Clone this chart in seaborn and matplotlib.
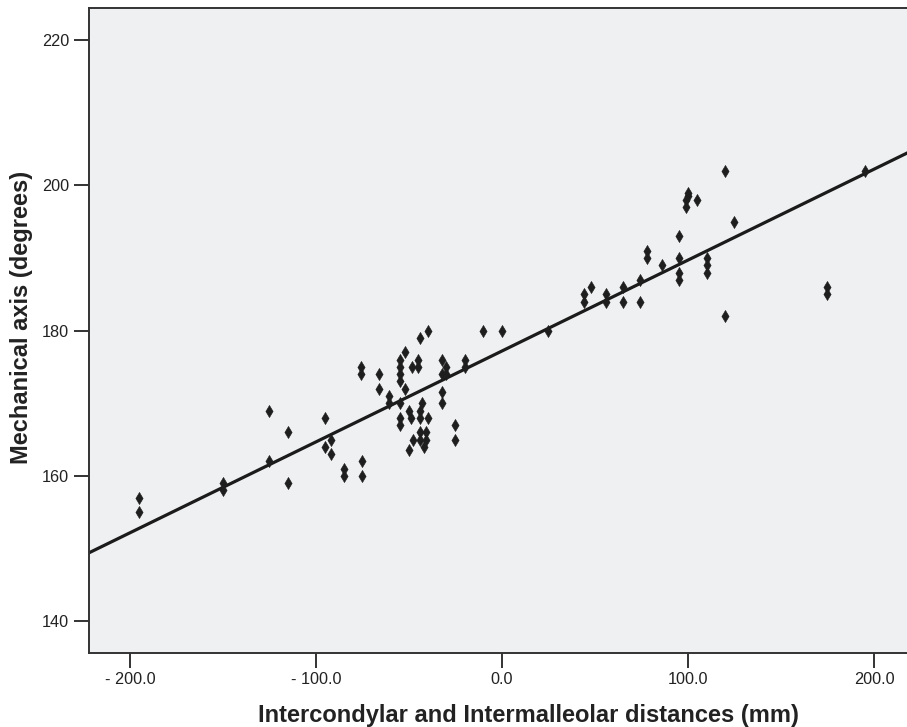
import numpy as np
import pandas as pd
import matplotlib
matplotlib.use("Agg")
import matplotlib.pyplot as plt
import seaborn as sns
from matplotlib.ticker import FixedLocator, FuncFormatter

# ---- data ----
distance_mm = [
    -195, -195, -150, -150, -125, -125, -115, -115,
    -95, -92, -95, -92, -85, -85, -75, -75,
    -76, -76, -66, -66, -61, -61,
    -55, -55, -55, -55, -55, -55, -55,
    -52, -52, -48.5, -45, -45, -44, -40,
    -32, -32, -30, -30, -32, -32, -20, -20, -25, -25,
    -50, -49, -48, -50, -44, -43, -44, -40, -44, -41, -44, -41, -42,
    -10, 0, 25,
    44, 44, 48, 56, 56, 65, 65, 74, 74, 78, 78, 86, 95, 95, 95, 95,
    99, 99, 100, 100, 105, 110, 110, 110, 120, 120, 125, 175, 175, 195,
]
mech_axis_deg = [
    157, 155, 159, 158, 169, 162, 166, 159,
    168, 165, 164, 163, 161, 160, 162, 160,
    175, 174, 174, 172, 171, 170,
    176, 175, 174, 173, 170, 168, 167,
    177, 172, 175, 176, 175, 179, 180,
    176, 174, 175, 174, 171.5, 170, 176, 175, 167, 165,
    169, 168, 165, 163.5, 169, 170, 168, 168, 166, 166, 165, 165, 164,
    180, 180, 180,
    185, 184, 186, 185, 184, 186, 184, 187, 184, 191, 190, 189, 193, 190, 188, 187,
    197, 198, 198.5, 199, 198, 190, 189, 188, 202, 182, 195, 186, 185, 202,
]
# fitted line
fit_intercept = 177.2
fit_slope = 0.1252

x_ticks = [-200, -100, 0, 100, 200]
y_ticks = [140, 160, 180, 200, 220]

df = pd.DataFrame({"x": distance_mm, "y": mech_axis_deg})

sns.set_theme(style="ticks")
plt.rcParams["font.family"] = ["Liberation Sans", "DejaVu Sans"]

fig = plt.figure(figsize=(9.07, 7.27), dpi=100)
# the plotting frame continues past the right edge of the picture (cropped)
ax = fig.add_axes([88.5 / 907, 74 / 727, (967.5 - 88.5) / 907, (653 - 8) / 727])
ax.set_facecolor("#eff0f2")

ax.set_xlim(-222.3, 250.3)
ax.set_ylim(135.6, 224.45)

ax.axline((0, fit_intercept), slope=fit_slope, color="#1b1b1b", lw=2.3, zorder=2)
sns.scatterplot(data=df, x="x", y="y", ax=ax, marker="d", s=38,
                color="#1e1e1e", edgecolor="#1e1e1e", linewidth=0.4, zorder=3)

ax.set_xlim(-222.3, 250.3)
ax.set_ylim(135.6, 224.45)
ax.xaxis.set_major_locator(FixedLocator(x_ticks))
ax.yaxis.set_major_locator(FixedLocator(y_ticks))

def xfmt(v, pos):
    return f"- {abs(v):.1f}" if v < 0 else f"{v:.1f}"

ax.xaxis.set_major_formatter(FuncFormatter(xfmt))
ax.yaxis.set_major_formatter(FuncFormatter(lambda v, p: f"{v:.0f}"))

for s in ["left", "bottom", "top", "right"]:
    ax.spines[s].set_color("#333333")
    ax.spines[s].set_linewidth(1.4)
ax.tick_params(axis="both", direction="out", length=11, width=1.4,
               color="#333333", labelsize=11.7, labelcolor="#222222", pad=3)

ax.set_xlabel("Intercondylar and Intermalleolar distances (mm)",
              fontsize=17, fontweight="bold", color="#222222", labelpad=12)
ax.set_ylabel("Mechanical axis (degrees)",
              fontsize=17, fontweight="bold", color="#222222")
ax.yaxis.set_label_coords((33 - 88.5) / (967.5 - 88.5), (653 - 317.5) / 645)

fig.savefig("out.png", dpi=100)
